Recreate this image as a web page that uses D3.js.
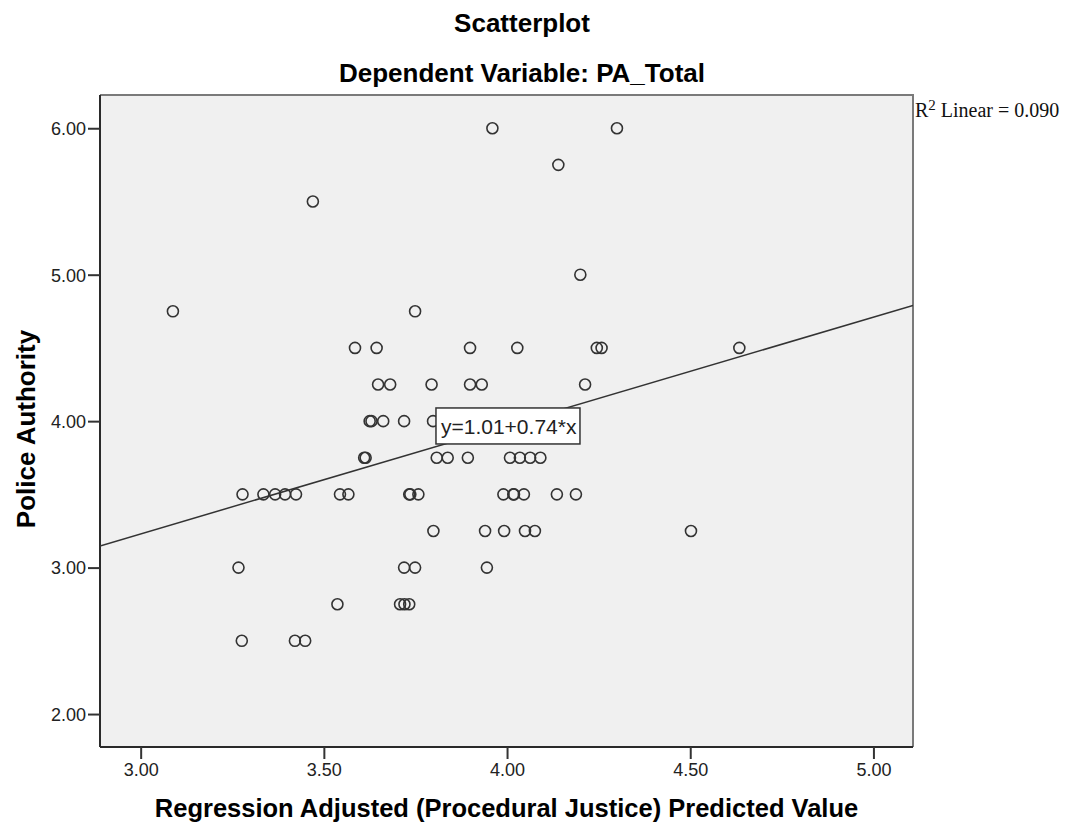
<!DOCTYPE html>
<html>
<head>
<meta charset="utf-8">
<script src="https://cdn.jsdelivr.net/npm/d3@7"></script>
<style>
  body { margin: 0; background: #fff; }
  text { font-family: "Liberation Sans", Arial, sans-serif; }
</style>
</head>
<body>
<script>
// data: predicted value (x) and PA_Total (y)
var predX = [3.96, 4.30,
  4.14,
  3.47,
  4.20,
  3.088, 3.749,
  3.585, 3.644, 3.899, 4.028, 4.245, 4.258, 4.634,
  3.648, 3.681, 3.794, 3.899, 3.931, 4.213,
  3.625, 3.630, 3.662, 3.719, 3.798,
  3.610, 3.614, 3.808, 3.838, 3.893, 4.008, 4.035, 4.063, 4.091,
  3.278, 3.335, 3.367, 3.394, 3.424, 3.544, 3.567, 3.733, 3.736, 3.758, 3.990, 4.017, 4.019, 4.046, 4.136, 4.188,
  3.799, 3.940, 3.992, 4.049, 4.076, 4.502,
  3.267, 3.719, 3.749, 3.945,
  3.537, 3.708, 3.720, 3.733,
  3.276, 3.421, 3.449];
var paTotal = [6.00, 6.00,
  5.75,
  5.50,
  5.00,
  4.75, 4.75,
  4.50, 4.50, 4.50, 4.50, 4.50, 4.50, 4.50,
  4.25, 4.25, 4.25, 4.25, 4.25, 4.25,
  4.00, 4.00, 4.00, 4.00, 4.00,
  3.75, 3.75, 3.75, 3.75, 3.75, 3.75, 3.75, 3.75, 3.75,
  3.50, 3.50, 3.50, 3.50, 3.50, 3.50, 3.50, 3.50, 3.50, 3.50, 3.50, 3.50, 3.50, 3.50, 3.50, 3.50,
  3.25, 3.25, 3.25, 3.25, 3.25, 3.25,
  3.00, 3.00, 3.00, 3.00,
  2.75, 2.75, 2.75, 2.75,
  2.50, 2.50, 2.50];

var xTicks = [3.00, 3.50, 4.00, 4.50, 5.00];
var yTicks = [2.00, 3.00, 4.00, 5.00, 6.00];
var fitA = 1.01, fitB = 0.74;
var fitLabel = "y=1.01+0.74*x";
var r2Value = "0.090";

var points = predX.map(function(d, i) { return {x: d, y: paTotal[i]}; });

//frame
var margin = {left: 100, top: 95},
    width = 813,
    height = 652;

var svg = d3.select("body").append("svg")
    .attr("width", 1067)
    .attr("height", 824);

var x = d3.scaleLinear().domain([2.889, 5.108]).range([0, width]);
var y = d3.scaleLinear().domain([1.775, 6.227]).range([height, 0]);

var g = svg.append("g")
    .attr("transform", "translate(" + margin.left + "," + margin.top + ")");

g.append("rect")
    .attr("width", width)
    .attr("height", height)
    .attr("fill", "#f0f0f0");

g.append("clipPath").attr("id", "clip")
  .append("rect").attr("width", width).attr("height", height);

// top and right edges are gray
g.append("path")
    .attr("d", "M0,0H" + width + "V" + height)
    .attr("fill", "none")
    .attr("stroke", "#7a7a7a")
    .attr("stroke-width", 2);

// axes
var xAxis = d3.axisBottom(x).tickValues(xTicks).tickFormat(d3.format(".2f")).tickSize(12).tickSizeOuter(0);
var yAxis = d3.axisLeft(y).tickValues(yTicks).tickFormat(d3.format(".2f")).tickSize(12).tickSizeOuter(0);

var gx = g.append("g").attr("transform", "translate(0," + height + ")").call(xAxis);
var gy = g.append("g").call(yAxis);

[gx, gy].forEach(function(ax) {
  ax.select(".domain").attr("stroke", "#2a2a2a").attr("stroke-width", 2);
  ax.selectAll(".tick line").attr("stroke", "#333").attr("stroke-width", 2);
  ax.selectAll(".tick text")
    .attr("fill", "#222")
    .style("font-size", "18px")
    .style("font-family", "'Liberation Sans', Arial, sans-serif");
});
gx.select(".domain").attr("d", "M0,0H" + width);
gy.select(".domain").attr("d", "M0,0V" + height);
gx.selectAll(".tick text").attr("y", 16).attr("dy", "0.71em");
gy.selectAll(".tick text").attr("x", -14).attr("dy", "0.35em");

// fit line
var xd = x.domain();
g.append("line")
    .attr("clip-path", "url(#clip)")
    .attr("x1", x(xd[0])).attr("y1", y(fitA + fitB * xd[0]))
    .attr("x2", x(xd[1])).attr("y2", y(fitA + fitB * xd[1]))
    .attr("stroke", "#333")
    .attr("stroke-width", 1.5);

// points
g.selectAll("circle.pt")
    .data(points)
    .enter().append("circle")
    .attr("class", "pt")
    .attr("cx", function(d) { return x(d.x); })
    .attr("cy", function(d) { return y(d.y); })
    .attr("r", 5.5)
    .attr("fill", "none")
    .attr("stroke", "#333")
    .attr("stroke-width", 1.6);

// equation label
var lx = x(3.806), ly = y(4.09);
g.append("rect")
    .attr("x", lx).attr("y", ly)
    .attr("width", 144).attr("height", 36)
    .attr("fill", "#fff")
    .attr("stroke", "#333")
    .attr("stroke-width", 1.5);
g.append("text")
    .attr("x", lx + 5).attr("y", ly + 26)
    .style("font-size", "21px")
    .attr("fill", "#222")
    .text(fitLabel);

// R2 text
var r2 = svg.append("text")
    .attr("x", margin.left + width + 2)
    .attr("y", 117)
    .style("font-family", "'Liberation Serif', 'Times New Roman', serif")
    .style("font-size", "20px")
    .attr("fill", "#111");
r2.append("tspan").text("R");
r2.append("tspan").attr("dy", -7).style("font-size", "15px").text("2");
r2.append("tspan").attr("dy", 7).text(" Linear = " + r2Value);

// titles
svg.append("text")
    .attr("x", 522).attr("y", 32)
    .attr("text-anchor", "middle")
    .style("font-size", "26px").style("font-weight", "bold")
    .text("Scatterplot");
svg.append("text")
    .attr("x", 522).attr("y", 82)
    .attr("text-anchor", "middle")
    .style("font-size", "26px").style("font-weight", "bold")
    .text("Dependent Variable: PA_Total");

svg.append("text")
    .attr("x", margin.left + width / 2).attr("y", 817)
    .attr("text-anchor", "middle")
    .style("font-size", "25.5px").style("font-weight", "bold")
    .text("Regression Adjusted (Procedural Justice) Predicted Value");

svg.append("text")
    .attr("transform", "translate(35,429) rotate(-90)")
    .attr("text-anchor", "middle")
    .style("font-size", "26px").style("font-weight", "bold")
    .text("Police Authority");
</script>
</body>
</html>
